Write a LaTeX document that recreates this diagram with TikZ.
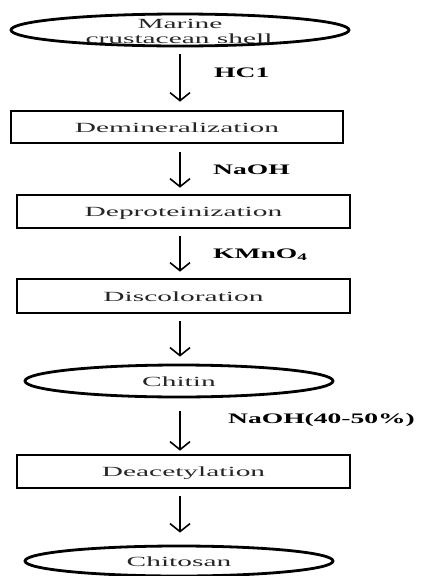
\documentclass[tikz,border=0pt]{standalone}
\usepackage{fontspec}
\usetikzlibrary{shapes.geometric,arrows.meta}
\newfontfamily\wfont[FakeStretch=2.1]{Liberation Serif}
\newfontfamily\lfont[FakeStretch=1.9]{Liberation Serif}
\begin{document}
\begin{tikzpicture}[x=1pt,y=-1pt,
  box/.style={draw=black,line width=2.7pt,rectangle,inner sep=0pt,
    font=\wfont\fontsize{14}{16}\selectfont,text=black!85,text height=10pt,text depth=0pt},
  oval/.style={draw=black,line width=2.8pt,ellipse,inner sep=0pt,
    font=\wfont\fontsize{14}{16}\selectfont,text=black!85,text height=10pt,text depth=0pt},
  txt/.style={inner sep=0pt,font=\wfont\fontsize{14}{16}\selectfont,text=black!85,anchor=base},
  lbl/.style={inner sep=0pt,font=\lfont\bfseries\fontsize{14.5}{16}\selectfont,anchor=west,text height=10pt,text depth=0pt},
  arr/.style={line width=1.6pt,-{Straight Barb[length=8pt,width=20pt,line width=1.6pt]}}]
\useasboundingbox (0,0) rectangle (427,576);
\coordinate (ax) at (180,0);
% nodes
\node[oval,minimum width=338pt,minimum height=32pt] (shell) at (180,30) {};
\node[txt] (t1) at (180,28) {Marine};
\node[txt] (t2) at (179,43) {crustacean shell};
\node[box,minimum width=332pt,minimum height=32pt] (demin) at (177,127) {Demineralization};
\node[box,minimum width=333pt,minimum height=33pt] (deprot) at (183.5,211.5) {Deproteinization};
\node[box,minimum width=333pt,minimum height=34pt] (disc) at (183.5,296) {Discoloration};
\node[oval,minimum width=308pt,minimum height=32pt] (chitin) at (179,381) {Chitin};
\node[box,minimum width=333pt,minimum height=33pt] (deac) at (183.5,471.5) {Deacetylation};
\node[oval,minimum width=308pt,minimum height=30pt] (chitosan) at (179,561) {Chitosan};
% labels
\node[lbl] (l1) at (214,72) {HC1};
\node[lbl] (l2) at (213,169) {NaOH};
\node[lbl] (l3) at (213,253) {KMnO\textsubscript{4}};
\node[lbl] (l4) at (228,418) {NaOH(40-50\%)};
% arrows
\draw[arr,shorten <=7pt,shorten >=8pt] (shell.south -| ax) -- (demin.north -| ax);
\draw[arr,shorten <=8pt,shorten >=6pt] (demin.south -| ax) -- (deprot.north -| ax);
\draw[arr,shorten <=7pt,shorten >=6pt] (deprot.south -| ax) -- (disc.north -| ax);
\draw[arr,shorten <=7pt,shorten >=7pt] (disc.south -| ax) -- (chitin.north -| ax);
\draw[arr,shorten <=13pt,shorten >=3pt] (chitin.south -| ax) -- (deac.north -| ax);
\draw[arr,shorten <=7pt,shorten >=12pt] (deac.south -| ax) -- (chitosan.north -| ax);
\end{tikzpicture}
\end{document}
